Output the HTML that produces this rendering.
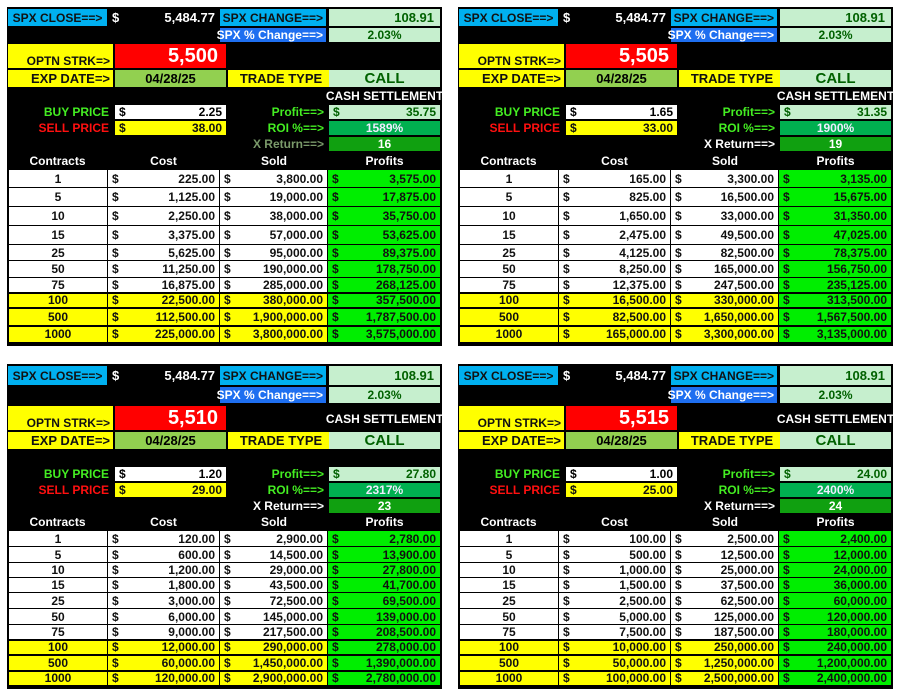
<!DOCTYPE html>
<html><head><meta charset="utf-8">
<style>
body{margin:0;width:914px;height:692px;background:#fff;position:relative;overflow:hidden;font-family:"Liberation Sans",Arial,sans-serif;font-weight:bold;font-size:12px}
.p{position:absolute;background:#000;width:435px}
.c{position:absolute;box-sizing:border-box;white-space:nowrap;display:flex;align-items:center;padding:0 3px}
.r{justify-content:flex-end}.m{justify-content:center}.sb{justify-content:space-between;padding:0 4px 0 4px}
.bl{background:#00b0f0;color:#111}.lg{background:#c6efce;color:#006100}.ye{background:#ffff00;color:#111}
table{position:absolute;left:1px;border-collapse:collapse;width:432px;table-layout:fixed}
td{border:1px solid #000;padding:0 4px;text-align:right;background:#fff;color:#111;height:13px;line-height:12px}
td:first-child{text-align:center}
td span{float:left}
td:last-child{background:#00ee00}
tr.y td{background:#ffff00;border-top:2px solid #000}
tr.y td:last-child{background:#00ee00}
</style></head><body>

<!-- TOP LEFT -->
<div class="p" style="left:7px;top:7px;height:339px">
<div class="c bl m" style="left:1px;top:2px;width:99px;height:17px">SPX CLOSE==&gt;</div>
<div class="c sb" style="left:101px;top:2px;width:111px;height:17px;color:#fff;font-size:13px"><span>$</span><span>5,484.77</span></div>
<div class="c bl r" style="left:213px;top:2px;width:106px;height:17px">SPX CHANGE==&gt;</div>
<div class="c lg r" style="left:322px;top:2px;width:111px;height:17px;font-size:13px;padding-right:6px">108.91</div>
<div class="c r" style="left:213px;top:21px;width:106px;height:14px;background:#1e6ff0;color:#fff">SPX % Change==&gt;</div>
<div class="c lg m" style="left:322px;top:21px;width:111px;height:14px">2.03%</div>
<div class="c ye r" style="left:1px;top:37px;width:105px;height:24px;align-items:flex-end">OPTN STRK=&gt;</div>
<div class="c r" style="left:108px;top:37px;width:111px;height:24px;background:#ff0000;color:#fff;font-size:20px;padding-right:8px">5,500</div>
<div class="c ye r" style="left:1px;top:63px;width:105px;height:17px;font-size:13px">EXP DATE=&gt;</div>
<div class="c m" style="left:108px;top:63px;width:111px;height:17px;background:#92d050;font-size:13px">04/28/25</div>
<div class="c ye m" style="left:221px;top:63px;width:106px;height:17px;font-size:13px">TRADE TYPE</div>
<div class="c lg m" style="left:322px;top:63px;width:111px;height:17px;font-size:15px">CALL</div>
<div class="c m" style="left:322px;top:81px;width:111px;height:16px;color:#fff">CASH SETTLEMENT</div>
<div class="c r" style="left:1px;top:98px;width:104px;height:14px;color:#44ee22">BUY PRICE</div>
<div class="c sb" style="left:108px;top:98px;width:111px;height:14px;background:#fff"><span>$</span><span>2.25</span></div>
<div class="c r" style="left:1px;top:114px;width:104px;height:14px;color:#ff1010">SELL PRICE</div>
<div class="c sb ye" style="left:108px;top:114px;width:111px;height:14px"><span>$</span><span>38.00</span></div>
<div class="c r" style="left:213px;top:98px;width:107px;height:14px;color:#44ee22">Profit==&gt;</div>
<div class="c sb lg" style="left:322px;top:98px;width:111px;height:14px"><span>$</span><span>35.75</span></div>
<div class="c r" style="left:213px;top:114px;width:107px;height:14px;color:#44ee22">ROI %==&gt;</div>
<div class="c m" style="left:322px;top:114px;width:111px;height:14px;background:#00b050;color:#eef">1589%</div>
<div class="c r" style="left:213px;top:130px;width:107px;height:14px;color:#7a9a6a">X Return==&gt;</div>
<div class="c m" style="left:322px;top:130px;width:111px;height:14px;background:#10a010;color:#fff">16</div>
<div class="c m" style="left:1px;top:146px;width:99px;height:15px;color:#fff">Contracts</div>
<div class="c m" style="left:101px;top:146px;width:111px;height:15px;color:#fff">Cost</div>
<div class="c m" style="left:213px;top:146px;width:108px;height:15px;color:#fff">Sold</div>
<div class="c m" style="left:322px;top:146px;width:111px;height:15px;color:#fff">Profits</div>
<table style="top:162px">
<colgroup><col style="width:99px"><col style="width:112px"><col style="width:108px"><col style="width:113px"></colgroup>
<tr style="height:18px"><td>1</td><td><span>$</span>225.00</td><td><span>$</span>3,800.00</td><td><span>$</span>3,575.00</td></tr>
<tr style="height:19px"><td>5</td><td><span>$</span>1,125.00</td><td><span>$</span>19,000.00</td><td><span>$</span>17,875.00</td></tr>
<tr style="height:19px"><td>10</td><td><span>$</span>2,250.00</td><td><span>$</span>38,000.00</td><td><span>$</span>35,750.00</td></tr>
<tr style="height:19px"><td>15</td><td><span>$</span>3,375.00</td><td><span>$</span>57,000.00</td><td><span>$</span>53,625.00</td></tr>
<tr style="height:16px"><td>25</td><td><span>$</span>5,625.00</td><td><span>$</span>95,000.00</td><td><span>$</span>89,375.00</td></tr>
<tr style="height:17px"><td>50</td><td><span>$</span>11,250.00</td><td><span>$</span>190,000.00</td><td><span>$</span>178,750.00</td></tr>
<tr style="height:15px"><td>75</td><td><span>$</span>16,875.00</td><td><span>$</span>285,000.00</td><td><span>$</span>268,125.00</td></tr>
<tr class="y" style="height:15px"><td>100</td><td><span>$</span>22,500.00</td><td><span>$</span>380,000.00</td><td><span>$</span>357,500.00</td></tr>
<tr class="y" style="height:18px"><td>500</td><td><span>$</span>112,500.00</td><td><span>$</span>1,900,000.00</td><td><span>$</span>1,787,500.00</td></tr>
<tr class="y" style="height:17px"><td>1000</td><td><span>$</span>225,000.00</td><td><span>$</span>3,800,000.00</td><td><span>$</span>3,575,000.00</td></tr>
</table>
</div>

<!-- TOP RIGHT -->
<div class="p" style="left:458px;top:7px;height:339px">
<div class="c bl m" style="left:1px;top:2px;width:99px;height:17px">SPX CLOSE==&gt;</div>
<div class="c sb" style="left:101px;top:2px;width:111px;height:17px;color:#fff;font-size:13px"><span>$</span><span>5,484.77</span></div>
<div class="c bl r" style="left:213px;top:2px;width:106px;height:17px">SPX CHANGE==&gt;</div>
<div class="c lg r" style="left:322px;top:2px;width:111px;height:17px;font-size:13px;padding-right:6px">108.91</div>
<div class="c r" style="left:213px;top:21px;width:106px;height:14px;background:#1e6ff0;color:#fff">SPX % Change==&gt;</div>
<div class="c lg m" style="left:322px;top:21px;width:111px;height:14px">2.03%</div>
<div class="c ye r" style="left:1px;top:37px;width:105px;height:24px;align-items:flex-end">OPTN STRK=&gt;</div>
<div class="c r" style="left:108px;top:37px;width:111px;height:24px;background:#ff0000;color:#fff;font-size:20px;padding-right:8px">5,505</div>
<div class="c ye r" style="left:1px;top:63px;width:105px;height:17px;font-size:13px">EXP DATE=&gt;</div>
<div class="c m" style="left:108px;top:63px;width:111px;height:17px;background:#92d050;font-size:13px">04/28/25</div>
<div class="c ye m" style="left:221px;top:63px;width:106px;height:17px;font-size:13px">TRADE TYPE</div>
<div class="c lg m" style="left:322px;top:63px;width:111px;height:17px;font-size:15px">CALL</div>
<div class="c m" style="left:322px;top:81px;width:111px;height:16px;color:#fff">CASH SETTLEMENT</div>
<div class="c r" style="left:1px;top:98px;width:104px;height:14px;color:#44ee22">BUY PRICE</div>
<div class="c sb" style="left:108px;top:98px;width:111px;height:14px;background:#fff"><span>$</span><span>1.65</span></div>
<div class="c r" style="left:1px;top:114px;width:104px;height:14px;color:#ff1010">SELL PRICE</div>
<div class="c sb ye" style="left:108px;top:114px;width:111px;height:14px"><span>$</span><span>33.00</span></div>
<div class="c r" style="left:213px;top:98px;width:107px;height:14px;color:#44ee22">Profit==&gt;</div>
<div class="c sb lg" style="left:322px;top:98px;width:111px;height:14px"><span>$</span><span>31.35</span></div>
<div class="c r" style="left:213px;top:114px;width:107px;height:14px;color:#44ee22">ROI %==&gt;</div>
<div class="c m" style="left:322px;top:114px;width:111px;height:14px;background:#00b050;color:#eef">1900%</div>
<div class="c r" style="left:213px;top:130px;width:107px;height:14px;color:#fff">X Return==&gt;</div>
<div class="c m" style="left:322px;top:130px;width:111px;height:14px;background:#10a010;color:#fff">19</div>
<div class="c m" style="left:1px;top:146px;width:99px;height:15px;color:#fff">Contracts</div>
<div class="c m" style="left:101px;top:146px;width:111px;height:15px;color:#fff">Cost</div>
<div class="c m" style="left:213px;top:146px;width:108px;height:15px;color:#fff">Sold</div>
<div class="c m" style="left:322px;top:146px;width:111px;height:15px;color:#fff">Profits</div>
<table style="top:162px">
<colgroup><col style="width:99px"><col style="width:112px"><col style="width:108px"><col style="width:113px"></colgroup>
<tr style="height:18px"><td>1</td><td><span>$</span>165.00</td><td><span>$</span>3,300.00</td><td><span>$</span>3,135.00</td></tr>
<tr style="height:19px"><td>5</td><td><span>$</span>825.00</td><td><span>$</span>16,500.00</td><td><span>$</span>15,675.00</td></tr>
<tr style="height:19px"><td>10</td><td><span>$</span>1,650.00</td><td><span>$</span>33,000.00</td><td><span>$</span>31,350.00</td></tr>
<tr style="height:19px"><td>15</td><td><span>$</span>2,475.00</td><td><span>$</span>49,500.00</td><td><span>$</span>47,025.00</td></tr>
<tr style="height:16px"><td>25</td><td><span>$</span>4,125.00</td><td><span>$</span>82,500.00</td><td><span>$</span>78,375.00</td></tr>
<tr style="height:17px"><td>50</td><td><span>$</span>8,250.00</td><td><span>$</span>165,000.00</td><td><span>$</span>156,750.00</td></tr>
<tr style="height:15px"><td>75</td><td><span>$</span>12,375.00</td><td><span>$</span>247,500.00</td><td><span>$</span>235,125.00</td></tr>
<tr class="y" style="height:15px"><td>100</td><td><span>$</span>16,500.00</td><td><span>$</span>330,000.00</td><td><span>$</span>313,500.00</td></tr>
<tr class="y" style="height:18px"><td>500</td><td><span>$</span>82,500.00</td><td><span>$</span>1,650,000.00</td><td><span>$</span>1,567,500.00</td></tr>
<tr class="y" style="height:17px"><td>1000</td><td><span>$</span>165,000.00</td><td><span>$</span>3,300,000.00</td><td><span>$</span>3,135,000.00</td></tr>
</table>
</div>

<!-- BOTTOM LEFT -->
<div class="p" style="left:7px;top:364px;height:325px">
<div class="c bl m" style="left:1px;top:2px;width:99px;height:19px">SPX CLOSE==&gt;</div>
<div class="c sb" style="left:101px;top:2px;width:111px;height:19px;color:#fff;font-size:13px"><span>$</span><span>5,484.77</span></div>
<div class="c bl r" style="left:213px;top:2px;width:106px;height:19px">SPX CHANGE==&gt;</div>
<div class="c lg r" style="left:322px;top:2px;width:111px;height:19px;font-size:13px;padding-right:6px">108.91</div>
<div class="c r" style="left:213px;top:23px;width:106px;height:16px;background:#1e6ff0;color:#fff">SPX % Change==&gt;</div>
<div class="c lg m" style="left:322px;top:23px;width:111px;height:16px">2.03%</div>
<div class="c ye r" style="left:1px;top:42px;width:105px;height:24px;align-items:flex-end">OPTN STRK=&gt;</div>
<div class="c r" style="left:108px;top:42px;width:111px;height:24px;background:#ff0000;color:#fff;font-size:20px;padding-right:8px">5,510</div>
<div class="c m" style="left:322px;top:46px;width:111px;height:18px;color:#fff">CASH SETTLEMENT</div>
<div class="c ye r" style="left:1px;top:68px;width:105px;height:17px;font-size:13px">EXP DATE=&gt;</div>
<div class="c m" style="left:108px;top:68px;width:111px;height:17px;background:#92d050;font-size:13px">04/28/25</div>
<div class="c ye m" style="left:221px;top:68px;width:106px;height:17px;font-size:13px">TRADE TYPE</div>
<div class="c lg m" style="left:322px;top:68px;width:111px;height:17px;font-size:15px">CALL</div>
<div class="c r" style="left:1px;top:103px;width:104px;height:14px;color:#44ee22">BUY PRICE</div>
<div class="c sb" style="left:108px;top:103px;width:111px;height:14px;background:#fff"><span>$</span><span>1.20</span></div>
<div class="c r" style="left:1px;top:119px;width:104px;height:14px;color:#ff1010">SELL PRICE</div>
<div class="c sb ye" style="left:108px;top:119px;width:111px;height:14px"><span>$</span><span>29.00</span></div>
<div class="c r" style="left:213px;top:103px;width:107px;height:14px;color:#44ee22">Profit==&gt;</div>
<div class="c sb lg" style="left:322px;top:103px;width:111px;height:14px"><span>$</span><span>27.80</span></div>
<div class="c r" style="left:213px;top:119px;width:107px;height:14px;color:#44ee22">ROI %==&gt;</div>
<div class="c m" style="left:322px;top:119px;width:111px;height:14px;background:#00b050;color:#eef">2317%</div>
<div class="c r" style="left:213px;top:135px;width:107px;height:14px;color:#fff">X Return==&gt;</div>
<div class="c m" style="left:322px;top:135px;width:111px;height:14px;background:#10a010;color:#fff">23</div>
<div class="c m" style="left:1px;top:151px;width:99px;height:14px;color:#fff">Contracts</div>
<div class="c m" style="left:101px;top:151px;width:111px;height:14px;color:#fff">Cost</div>
<div class="c m" style="left:213px;top:151px;width:108px;height:14px;color:#fff">Sold</div>
<div class="c m" style="left:322px;top:151px;width:111px;height:14px;color:#fff">Profits</div>
<table style="top:166px">
<colgroup><col style="width:99px"><col style="width:112px"><col style="width:108px"><col style="width:113px"></colgroup>
<tr style="height:16px"><td>1</td><td><span>$</span>120.00</td><td><span>$</span>2,900.00</td><td><span>$</span>2,780.00</td></tr>
<tr style="height:16px"><td>5</td><td><span>$</span>600.00</td><td><span>$</span>14,500.00</td><td><span>$</span>13,900.00</td></tr>
<tr style="height:15px"><td>10</td><td><span>$</span>1,200.00</td><td><span>$</span>29,000.00</td><td><span>$</span>27,800.00</td></tr>
<tr style="height:15px"><td>15</td><td><span>$</span>1,800.00</td><td><span>$</span>43,500.00</td><td><span>$</span>41,700.00</td></tr>
<tr style="height:16px"><td>25</td><td><span>$</span>3,000.00</td><td><span>$</span>72,500.00</td><td><span>$</span>69,500.00</td></tr>
<tr style="height:16px"><td>50</td><td><span>$</span>6,000.00</td><td><span>$</span>145,000.00</td><td><span>$</span>139,000.00</td></tr>
<tr style="height:15px"><td>75</td><td><span>$</span>9,000.00</td><td><span>$</span>217,500.00</td><td><span>$</span>208,500.00</td></tr>
<tr class="y" style="height:15px"><td>100</td><td><span>$</span>12,000.00</td><td><span>$</span>290,000.00</td><td><span>$</span>278,000.00</td></tr>
<tr class="y" style="height:16px"><td>500</td><td><span>$</span>60,000.00</td><td><span>$</span>1,450,000.00</td><td><span>$</span>1,390,000.00</td></tr>
<tr class="y" style="height:14px"><td>1000</td><td><span>$</span>120,000.00</td><td><span>$</span>2,900,000.00</td><td><span>$</span>2,780,000.00</td></tr>
</table>
</div>

<!-- BOTTOM RIGHT -->
<div class="p" style="left:458px;top:364px;height:325px">
<div class="c bl m" style="left:1px;top:2px;width:99px;height:19px">SPX CLOSE==&gt;</div>
<div class="c sb" style="left:101px;top:2px;width:111px;height:19px;color:#fff;font-size:13px"><span>$</span><span>5,484.77</span></div>
<div class="c bl r" style="left:213px;top:2px;width:106px;height:19px">SPX CHANGE==&gt;</div>
<div class="c lg r" style="left:322px;top:2px;width:111px;height:19px;font-size:13px;padding-right:6px">108.91</div>
<div class="c r" style="left:213px;top:23px;width:106px;height:16px;background:#1e6ff0;color:#fff">SPX % Change==&gt;</div>
<div class="c lg m" style="left:322px;top:23px;width:111px;height:16px">2.03%</div>
<div class="c ye r" style="left:1px;top:42px;width:105px;height:24px;align-items:flex-end">OPTN STRK=&gt;</div>
<div class="c r" style="left:108px;top:42px;width:111px;height:24px;background:#ff0000;color:#fff;font-size:20px;padding-right:8px">5,515</div>
<div class="c m" style="left:322px;top:46px;width:111px;height:18px;color:#fff">CASH SETTLEMENT</div>
<div class="c ye r" style="left:1px;top:68px;width:105px;height:17px;font-size:13px">EXP DATE=&gt;</div>
<div class="c m" style="left:108px;top:68px;width:111px;height:17px;background:#92d050;font-size:13px">04/28/25</div>
<div class="c ye m" style="left:221px;top:68px;width:106px;height:17px;font-size:13px">TRADE TYPE</div>
<div class="c lg m" style="left:322px;top:68px;width:111px;height:17px;font-size:15px">CALL</div>
<div class="c r" style="left:1px;top:103px;width:104px;height:14px;color:#44ee22">BUY PRICE</div>
<div class="c sb" style="left:108px;top:103px;width:111px;height:14px;background:#fff"><span>$</span><span>1.00</span></div>
<div class="c r" style="left:1px;top:119px;width:104px;height:14px;color:#ff1010">SELL PRICE</div>
<div class="c sb ye" style="left:108px;top:119px;width:111px;height:14px"><span>$</span><span>25.00</span></div>
<div class="c r" style="left:213px;top:103px;width:107px;height:14px;color:#44ee22">Profit==&gt;</div>
<div class="c sb lg" style="left:322px;top:103px;width:111px;height:14px"><span>$</span><span>24.00</span></div>
<div class="c r" style="left:213px;top:119px;width:107px;height:14px;color:#44ee22">ROI %==&gt;</div>
<div class="c m" style="left:322px;top:119px;width:111px;height:14px;background:#00b050;color:#eef">2400%</div>
<div class="c r" style="left:213px;top:135px;width:107px;height:14px;color:#fff">X Return==&gt;</div>
<div class="c m" style="left:322px;top:135px;width:111px;height:14px;background:#10a010;color:#fff">24</div>
<div class="c m" style="left:1px;top:151px;width:99px;height:14px;color:#fff">Contracts</div>
<div class="c m" style="left:101px;top:151px;width:111px;height:14px;color:#fff">Cost</div>
<div class="c m" style="left:213px;top:151px;width:108px;height:14px;color:#fff">Sold</div>
<div class="c m" style="left:322px;top:151px;width:111px;height:14px;color:#fff">Profits</div>
<table style="top:166px">
<colgroup><col style="width:99px"><col style="width:112px"><col style="width:108px"><col style="width:113px"></colgroup>
<tr style="height:16px"><td>1</td><td><span>$</span>100.00</td><td><span>$</span>2,500.00</td><td><span>$</span>2,400.00</td></tr>
<tr style="height:16px"><td>5</td><td><span>$</span>500.00</td><td><span>$</span>12,500.00</td><td><span>$</span>12,000.00</td></tr>
<tr style="height:15px"><td>10</td><td><span>$</span>1,000.00</td><td><span>$</span>25,000.00</td><td><span>$</span>24,000.00</td></tr>
<tr style="height:15px"><td>15</td><td><span>$</span>1,500.00</td><td><span>$</span>37,500.00</td><td><span>$</span>36,000.00</td></tr>
<tr style="height:16px"><td>25</td><td><span>$</span>2,500.00</td><td><span>$</span>62,500.00</td><td><span>$</span>60,000.00</td></tr>
<tr style="height:16px"><td>50</td><td><span>$</span>5,000.00</td><td><span>$</span>125,000.00</td><td><span>$</span>120,000.00</td></tr>
<tr style="height:15px"><td>75</td><td><span>$</span>7,500.00</td><td><span>$</span>187,500.00</td><td><span>$</span>180,000.00</td></tr>
<tr class="y" style="height:15px"><td>100</td><td><span>$</span>10,000.00</td><td><span>$</span>250,000.00</td><td><span>$</span>240,000.00</td></tr>
<tr class="y" style="height:16px"><td>500</td><td><span>$</span>50,000.00</td><td><span>$</span>1,250,000.00</td><td><span>$</span>1,200,000.00</td></tr>
<tr class="y" style="height:14px"><td>1000</td><td><span>$</span>100,000.00</td><td><span>$</span>2,500,000.00</td><td><span>$</span>2,400,000.00</td></tr>
</table>
</div>

</body></html>
